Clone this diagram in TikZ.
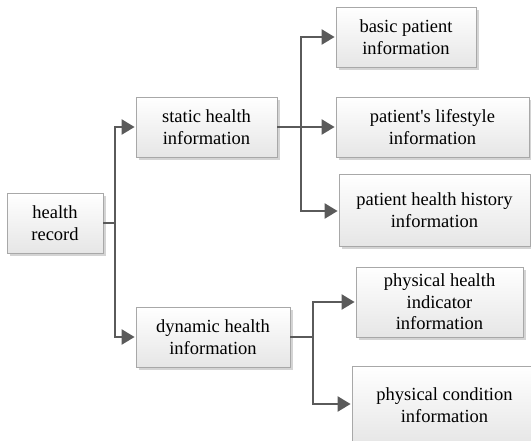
\documentclass[tikz,border=0pt]{standalone}
\usepackage{fontspec}
\setmainfont{Liberation Serif}
\usetikzlibrary{arrows.meta,shadows}
\definecolor{linegray}{HTML}{5A5A5A}
\definecolor{boxborder}{HTML}{A8A8A8}
\definecolor{boxbottom}{HTML}{E6E6E6}
\definecolor{shadowgray}{HTML}{D4D4D4}
\tikzset{
  box/.style={draw=boxborder, line width=0.8pt, top color=white, bottom color=boxbottom,
    align=center, inner sep=0pt, font=\fontsize{18.5}{21.5}\selectfont,
    drop shadow={shadow xshift=2.5pt, shadow yshift=-2.5pt, fill=shadowgray, opacity=1}},
  conn/.style={draw=linegray, line width=2.4pt},
  arr/.style={conn, -{Triangle[length=13pt,width=15pt]}, shorten >=1pt}
}
\begin{document}
\begin{tikzpicture}[x=1pt,y=-1pt]
\useasboundingbox (0,0) rectangle (531,440);
\clip (0,0) rectangle (531,440);
\node[box, minimum width=96pt, minimum height=60pt] (hr) at (55,223) {health\\record};
\node[box, minimum width=141pt, minimum height=60pt] (st) at (206.5,127) {static health\\information};
\node[box, minimum width=154pt, minimum height=60pt] (dy) at (213,337) {dynamic health\\information};
\node[box, minimum width=140pt, minimum height=60pt] (b1) at (406,37) {basic patient\\information};
\node[box, minimum width=193pt, minimum height=60pt] (b2) at (432.5,127) {patient\textquotesingle s lifestyle\\information};
\node[box, minimum width=191pt, minimum height=72pt] (b3) at (434.5,210) {patient health history\\information};
\node[box, minimum width=167pt, minimum height=70pt] (b4) at (439.5,302) {physical health\\indicator\\information};
\node[box, minimum width=185pt, minimum height=78pt] (b5) at (444.5,405) {physical condition\\information};

\coordinate (j1) at (115,223);
\coordinate (j1a) at (115,127);
\coordinate (j1b) at (115,337);
\coordinate (j2) at (301,127);
\coordinate (j2a) at (301,37);
\coordinate (j2c) at (301,211);
\coordinate (j3) at (313,337);
\coordinate (j3a) at (313,302);
\coordinate (j3b) at (313,404);

\draw[conn] (hr.east) -- (j1);
\draw[arr] (j1) -- (j1a) -- (st.west);
\draw[arr] (j1) -- (j1b) -- (dy.west);
\draw[arr] (st.east) -- (b2.west);
\draw[arr] (j2) -- (j2a) -- (b1.west);
\draw[arr] (j2) -- (j2c) -- (b3.west |- j2c);
\draw[conn] (dy.east) -- (j3);
\draw[arr] (j3) -- (j3a) -- (b4.west);
\draw[arr] (j3) -- (j3b) -- (b5.west |- j3b);
\end{tikzpicture}
\end{document}
